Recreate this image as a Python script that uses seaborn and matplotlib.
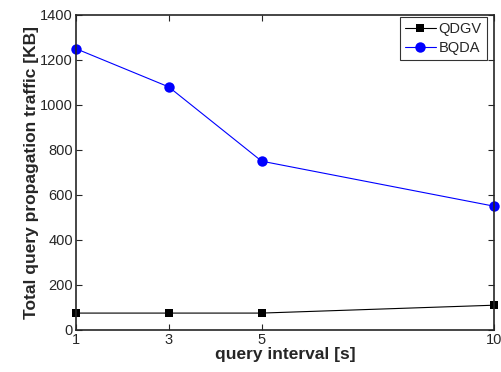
import matplotlib
matplotlib.use("Agg")
import matplotlib.pyplot as plt
import seaborn as sns
import pandas as pd

intervals = [1, 3, 5, 10]
qdgv = [75, 75, 75, 110]
bqda = [1250, 1080, 750, 550]
xticks = [1, 3, 5, 10]
yticks = [0, 200, 400, 600, 800, 1000, 1200, 1400]

sns.set_style("ticks")
plt.rcParams["font.family"] = ["Liberation Sans", "DejaVu Sans"]

df = pd.DataFrame({
    "interval": intervals * 2,
    "traffic": qdgv + bqda,
    "method": ["QDGV"] * len(qdgv) + ["BQDA"] * len(bqda),
})

fig = plt.figure(figsize=(5.02, 3.72), dpi=100)
ax = fig.add_axes([0.151, 0.113, 0.833, 0.847])

sns.lineplot(data=df, x="interval", y="traffic", hue="method", style="method",
             palette={"QDGV": "black", "BQDA": "blue"},
             markers={"QDGV": "s", "BQDA": "o"}, dashes=False,
             markersize=6, linewidth=0.8, markeredgewidth=0, ax=ax)
for ln in ax.lines:
    ln.set_clip_on(False)
    if ln.get_marker() == "o":
        ln.set_markersize(7.5)

ax.set_xlim(1, 10)
ax.set_ylim(0, 1400)
ax.set_xticks(xticks)
ax.set_xticklabels([str(t) for t in xticks])
ax.set_yticks(yticks)
ax.tick_params(direction="in", top=True, right=True, labelsize=10.5, length=4, width=0.8, pad=2)
for s in ax.spines.values():
    s.set_linewidth(1.2)
    s.set_visible(True)

ax.set_xlabel("query interval [s]", fontsize=12.5, fontweight="bold", labelpad=0)
ax.set_ylabel("Total query propagation traffic [KB]", fontsize=12.5, fontweight="bold", labelpad=1)

leg = ax.legend(loc="upper right", bbox_to_anchor=(0.983, 0.994), fontsize=10.5,
                frameon=True, fancybox=False, edgecolor="black", handlelength=2.1,
                borderpad=0.35, labelspacing=0.35, handletextpad=0.2, borderaxespad=0)
leg.get_frame().set_linewidth(0.8)

fig.savefig("out.png", dpi=100)
